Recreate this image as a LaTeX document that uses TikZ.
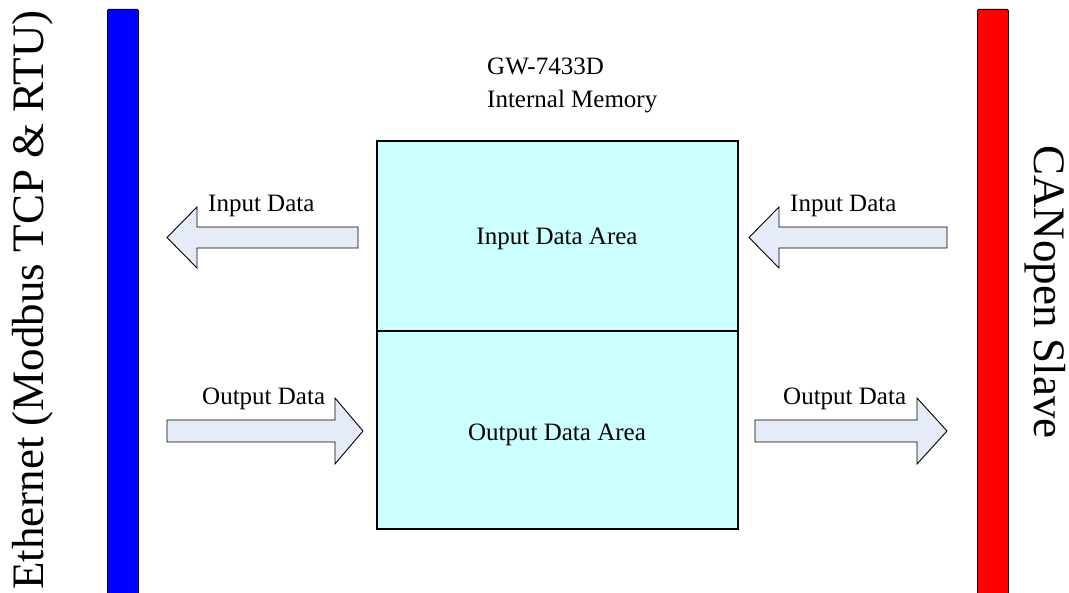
\documentclass[tikz,border=0pt]{standalone}
\usepackage{fontspec}
\setmainfont{Liberation Serif}
\newfontfamily\serifbig{Liberation Serif}
\definecolor{areafill}{RGB}{204,255,255}
\definecolor{arrowfill}{RGB}{230,236,247}
\begin{document}
\begin{tikzpicture}[x=1pt,y=-1pt,
  bar/.style={draw=black, line width=0.9pt, rounded corners=1.2pt, minimum width=31pt, anchor=north west, inner sep=0pt},
  area/.style={draw=black, line width=2pt, fill=areafill, minimum width=361pt, anchor=north west, inner sep=0pt},
  blockarrow/.style={draw=black, line width=0.9pt, fill=arrowfill, line join=miter},
  lbl/.style={font=\serifbig\fontsize{25}{30}\selectfont, inner sep=0pt},
  biglbl/.style={font=\serifbig\fontsize{45}{54}\selectfont, inner sep=0pt}]
\useasboundingbox (0,0) rectangle (1069,593);
% bars
\node[bar, fill=blue, minimum height=600pt] (ethbar) at (107,9) {};
\node[bar, fill=red, minimum height=600pt] (canbar) at (977,9) {};
\node[biglbl, rotate=90, anchor=base] (ethlbl) at (43,300) {Ethernet (Modbus TCP \& RTU)};
\node[biglbl, rotate=-90, anchor=base] (canlbl) at (1034,292) {CANopen Slave};
% memory
\node[lbl, anchor=base west] (title1) at (487,75) {GW-7433D};
\node[lbl, anchor=base west] (title2) at (487,108) {Internal Memory};
\node[area, minimum height=190pt] (inarea) at (376,140) {};
\node[area, minimum height=198pt] (outarea) at (376,330) {};
\node[lbl, anchor=base] (intext) at (557,245) {Input Data Area};
\node[lbl, anchor=base] (outtext) at (557,441) {Output Data Area};
% arrows
\draw[blockarrow] (167,237.5) -- (197,207) -- (197,227) -- (358,227) -- (358,248) -- (197,248) -- (197,268) -- cycle;
\draw[blockarrow] (749,237.5) -- (779,207) -- (779,227) -- (947,227) -- (947,248) -- (779,248) -- (779,268) -- cycle;
\draw[blockarrow] (363,431) -- (335,398) -- (335,420) -- (167,420) -- (167,442) -- (335,442) -- (335,464) -- cycle;
\draw[blockarrow] (947,431) -- (917,398) -- (917,420) -- (755,420) -- (755,442) -- (917,442) -- (917,464) -- cycle;
\node[lbl, anchor=base west] (inl) at (208,212) {Input Data};
\node[lbl, anchor=base west] (inr) at (790,212) {Input Data};
\node[lbl, anchor=base west] (outl) at (202,405) {Output Data};
\node[lbl, anchor=base west] (outr) at (783,405) {Output Data};
\end{tikzpicture}
\end{document}
